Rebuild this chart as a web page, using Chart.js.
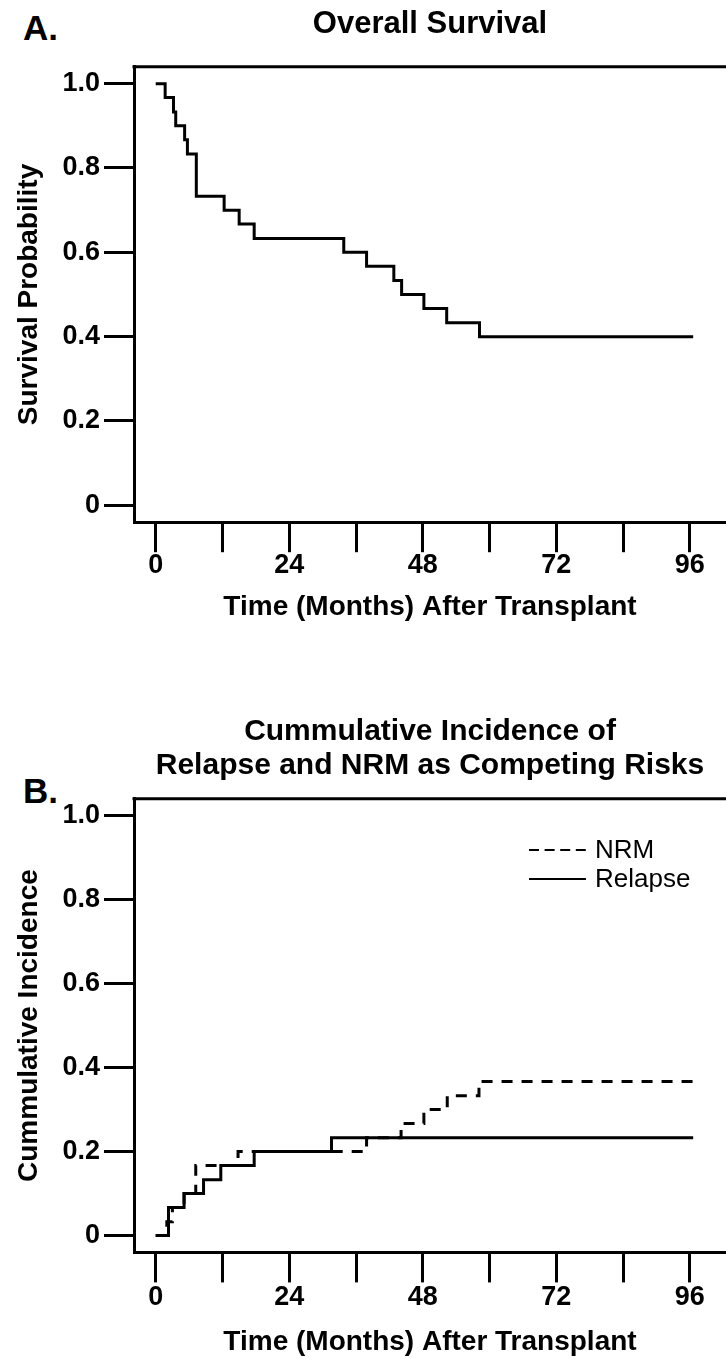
<!DOCTYPE html>
<html>
<head>
<meta charset="utf-8">
<script src="https://cdn.jsdelivr.net/npm/chart.js@4.4.1/dist/chart.umd.min.js"></script>
<style>
  body { margin: 0; background: #fff; }
  #wrap { position: relative; width: 726px; height: 1359px; overflow: hidden; font-family: "Liberation Sans", Arial, sans-serif; }
  canvas { position: absolute; left: 0; }
  .panel { position: absolute; font-weight: bold; font-size: 35px; line-height: 1; color: #000; }
</style>
</head>
<body>
<div id="wrap">
  <div class="panel" style="left:23px; top:10px;">A.</div>
  <canvas id="osChart" width="726" height="680" style="top:0"></canvas>
  <div class="panel" style="left:23px; top:773px;">B.</div>
  <canvas id="ciChart" width="726" height="679" style="top:680px"></canvas>
</div>
<script>
const FONT = '"Liberation Sans", Arial, sans-serif';

// shared axis ticks
const timeTicks = [0, 12, 24, 36, 48, 60, 72, 84, 96];
const probTicks = [0, 0.2, 0.4, 0.6, 0.8, 1.0];

// A. overall survival (Kaplan-Meier)
const osTime = [0, 1.7, 3.2, 3.6, 5.2, 5.7, 7.3, 12.3, 15.0, 17.7, 33.8, 37.9, 42.8, 44.2, 48.2, 52.3, 58.2, 96.6];
const osSurv = [1.0, 0.967, 0.933, 0.9, 0.867, 0.833, 0.733, 0.7, 0.667, 0.633, 0.6, 0.567, 0.533, 0.5, 0.467, 0.433, 0.4, 0.4];

// B. cumulative incidence
const nrmTime = [0, 2.0, 3.0, 5.1, 7.2, 14.8, 37.9, 44.1, 48.2, 52.4, 58.1, 96.6];
const nrmInc = [0, 0.033, 0.067, 0.1, 0.167, 0.2, 0.233, 0.267, 0.3, 0.333, 0.367, 0.367];
const relTime = [0, 2.3, 5.1, 8.6, 11.7, 17.7, 31.6, 96.6];
const relInc = [0, 0.067, 0.1, 0.133, 0.167, 0.2, 0.233, 0.233];

function toPoints(xs, ys) {
    return xs.map((x, i) => ({ x: x, y: ys[i] }));
}

// top line of the plot box
const boxTop = {
    id: 'boxTop',
    afterDraw(chart) {
        const { ctx, chartArea } = chart;
        ctx.save();
        ctx.strokeStyle = '#000';
        ctx.lineWidth = 3;
        ctx.beginPath();
        ctx.moveTo(chartArea.left - 1.5, chartArea.top);
        ctx.lineTo(chartArea.right, chartArea.top);
        ctx.stroke();
        ctx.restore();
    }
};

// legend with line samples, drawn inside the plot
const lineLegend = {
    id: 'lineLegend',
    afterDraw(chart) {
        const ctx = chart.ctx;
        ctx.save();
        ctx.font = '26px ' + FONT;
        ctx.fillStyle = '#000';
        ctx.strokeStyle = '#000';
        ctx.lineWidth = 2;
        ctx.textBaseline = 'middle';
        chart.data.datasets.forEach((ds, i) => {
            const y = 170 + i * 29;
            ctx.setLineDash(ds.borderDash && ds.borderDash.length ? [10, 5.6] : []);
            ctx.beginPath();
            ctx.moveTo(529, y);
            ctx.lineTo(586, y);
            ctx.stroke();
            ctx.setLineDash([]);
            ctx.fillText(ds.label, 595, y + 1);
        });
        ctx.restore();
    }
};

function axisOptions(yTitle, xHeight, labelPad) {
    return {
        x: {
            type: 'linear',
            min: -3.9,
            max: 102.5,
            afterBuildTicks: s => { s.ticks = timeTicks.map(v => ({ value: v })); },
            afterFit: s => { s.height = xHeight; },
            grid: { drawOnChartArea: false, drawTicks: true, tickLength: 30, tickWidth: 3, tickColor: '#000', lineWidth: 3, color: '#000' },
            border: { display: true, color: '#000', width: 3 },
            ticks: {
                color: '#000',
                padding: labelPad,
                maxRotation: 0,
                autoSkip: false,
                font: { family: FONT, size: 27, weight: 'bold', lineHeight: 1 },
                callback: v => (v % 24 === 0 ? String(v) : '')
            },
            title: {
                display: true,
                text: 'Time (Months) After Transplant',
                color: '#000',
                padding: { top: 0, bottom: 0 },
                font: { family: FONT, size: 28, weight: 'bold', lineHeight: 1.2 }
            }
        },
        y: {
            type: 'linear',
            min: -0.04,
            max: 1.04,
            afterBuildTicks: s => { s.ticks = probTicks.map(v => ({ value: v })); },
            afterFit: s => { s.width = 134; },
            grid: { drawOnChartArea: false, drawTicks: true, tickLength: 30, tickWidth: 3, tickColor: '#000', lineWidth: 3, color: '#000' },
            border: { display: true, color: '#000', width: 3 },
            ticks: {
                color: '#000',
                padding: 4,
                autoSkip: false,
                font: { family: FONT, size: 27, weight: 'bold', lineHeight: 1 },
                callback: v => (v === 0 ? '0' : v.toFixed(1))
            },
            title: {
                display: true,
                text: yTitle,
                color: '#000',
                padding: { top: 12, bottom: 0 },
                font: { family: FONT, size: 28, weight: 'bold', lineHeight: 1.2 }
            }
        }
    };
}

function stepSet(label, xs, ys, dash) {
    return {
        label: label,
        data: toPoints(xs, ys),
        borderColor: '#000',
        borderWidth: 3,
        borderDash: dash,
        stepped: true,
        pointRadius: 0,
        fill: false
    };
}

new Chart(document.getElementById('osChart'), {
    type: 'line',
    data: { datasets: [stepSet('Overall Survival', osTime, osSurv, [])] },
    options: {
        responsive: false,
        animation: false,
        devicePixelRatio: 1,
        layout: { padding: { left: 0, right: 0, top: 0, bottom: 56 } },
        plugins: {
            legend: { display: false },
            tooltip: { enabled: false },
            title: {
                display: true,
                fullSize: false,
                text: 'Overall Survival',
                color: '#000',
                font: { family: FONT, size: 31, weight: 'bold', lineHeight: 1.2 },
                padding: { top: 6, bottom: 23.6 }
            }
        },
        scales: axisOptions('Survival Probability', 101.8, 0)
    },
    plugins: [boxTop]
});

new Chart(document.getElementById('ciChart'), {
    type: 'line',
    data: {
        datasets: [
            stepSet('NRM', nrmTime, nrmInc, [11, 9]),
            stepSet('Relapse', relTime, relInc, [])
        ]
    },
    options: {
        responsive: false,
        animation: false,
        devicePixelRatio: 1,
        layout: { padding: { left: 0, right: 0, top: 0, bottom: 0 } },
        plugins: {
            legend: { display: false },
            tooltip: { enabled: false },
            title: {
                display: true,
                fullSize: false,
                text: ['Cummulative Incidence of', 'Relapse and NRM as Competing Risks'],
                color: '#000',
                font: { family: FONT, size: 30, weight: 'bold', lineHeight: 1.13 },
                padding: { top: 35, bottom: 16 }
            }
        },
        scales: axisOptions('Cummulative Incidence', 106.6, 2)
    },
    plugins: [boxTop, lineLegend]
});
</script>
</body>
</html>
